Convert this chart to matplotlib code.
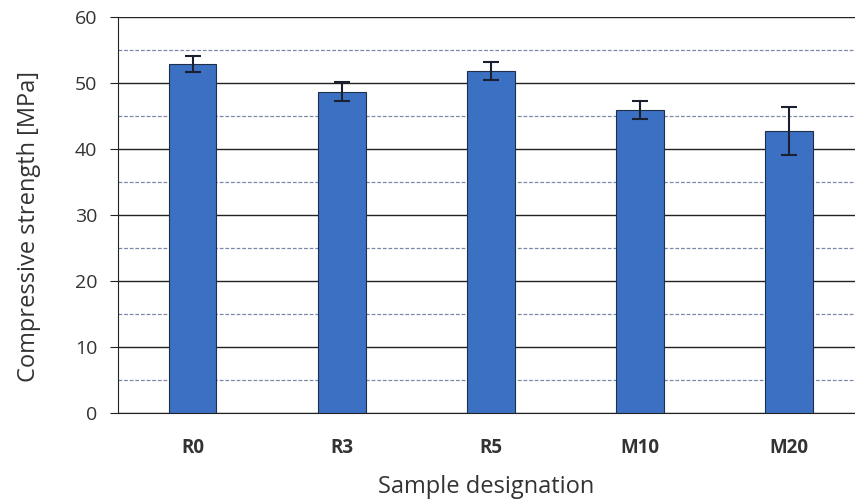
import numpy as np
import matplotlib.pyplot as plt

# datos
muestras = ["R0", "R3", "R5", "M10", "M20"]
resistencia = [52.9, 48.7, 51.8, 45.9, 42.7]
error = [1.2, 1.4, 1.4, 1.3, 3.6]

plt.rcParams['font.family'] = ['Open Sans', 'DejaVu Sans']

fig = plt.figure(figsize=(8.55, 5), dpi=100)
ax = fig.add_axes([0.138, 0.174, 0.862, 0.792])

x = np.arange(len(muestras))
ax.bar(x, resistencia, width=0.32, color="#3b70c2", edgecolor="#1f2f4a",
       linewidth=0.8, zorder=3,
       yerr=error, capsize=6,
       error_kw=dict(ecolor="#1a2030", elinewidth=1.5, capthick=1.5))

ax.set_ylim(0, 60)
ax.set_xlim(-0.5, 4.44)
ax.set_yticks(range(0, 61, 10))
ax.set_yticks(range(5, 60, 10), minor=True)
ax.tick_params(axis='y', which='minor', length=0)
ax.grid(axis='y', which='major', color="#222222", linewidth=1.0, zorder=0)
ax.grid(axis='y', which='minor', color="#7a88a8", linewidth=0.9,
        linestyle=(0, (3, 1.5)), zorder=0)

ax.set_xticks(x)
ax.set_xticklabels(muestras, fontweight='bold', fontsize=13.5, color="#333333")
ax.tick_params(axis='x', length=0, pad=18)
ax.tick_params(axis='y', labelsize=14, colors="#222222", length=6,
               labelcolor="#333333", pad=9)

for s in ["right", "top"]:
    ax.spines[s].set_visible(False)
ax.spines["left"].set_color("#222222")
ax.spines["bottom"].set_color("#222222")
ax.axhline(60, color="#222222", linewidth=1.2, zorder=1)

ax.set_xlabel("Sample designation", fontsize=17, color="#333333", labelpad=12)
ax.set_ylabel("Compressive strength [MPa]", fontsize=17, color="#333333")
ax.yaxis.set_label_coords(-0.105, 0.47)

fig.savefig("out.png", dpi=100)
